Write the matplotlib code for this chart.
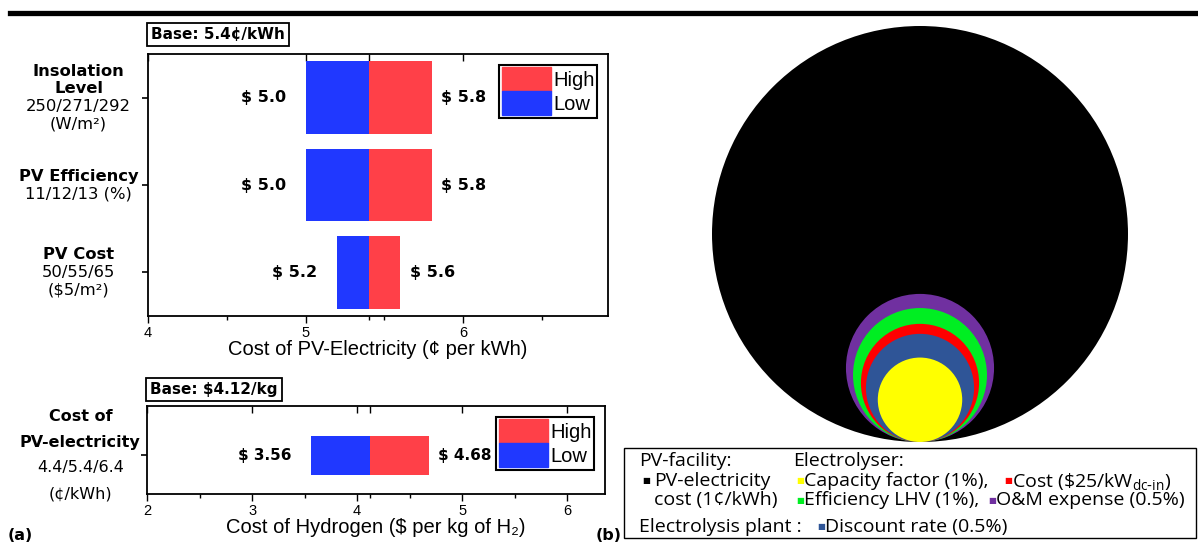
import numpy as np
import matplotlib
matplotlib.use("Agg")
import matplotlib.pyplot as plt
from matplotlib.patches import Patch, Circle
from matplotlib.lines import Line2D
from matplotlib.transforms import offset_copy

plt.rcParams['font.family'] = ['DejaVu Sans']
plt.rcParams['mathtext.default'] = 'regular'

#==================
#====== Data
#==================
# (a) top: sensitivity of PV-electricity cost (cents per kWh)
pv_base = 5.4
pv_params = ['Insolation Level', 'PV Efficiency', 'PV Cost']
pv_bold = [['Insolation', 'Level'], ['PV Efficiency'], ['PV Cost']]
pv_norm = [['250/271/292', '(W/m²)'], ['11/12/13 (%)'], ['50/55/65', '($5/m²)']]
pv_low = [5.0, 5.0, 5.2]
pv_high = [5.8, 5.8, 5.6]

# (a) bottom: sensitivity of hydrogen cost ($ per kg)
h2_base = 4.12
h2_bold = [['Cost of', 'PV-electricity']]
h2_norm = [['4.4/5.4/6.4', '(¢/kWh)']]
h2_low = [3.56]
h2_high = [4.68]

# (b) relative impact on hydrogen cost (circle size, PV-electricity = 1)
circ_names = ['PV-electricity', 'O&M expense', 'Efficiency LHV', 'Cost', 'Discount rate', 'Capacity factor']
circ_size = [1.0, 0.356, 0.322, 0.284, 0.260, 0.203]
circ_colors = ['#000000', '#7030A0', '#00EE22', '#FF0000', '#2F5597', '#FFFF00']

c_high = '#FF4048'
c_low = '#2038FF'

W, H = 1198, 546
fig = plt.figure(figsize=(W / 100, H / 100), dpi=100)

def fax(l, t, r, b):
    # axes from pixel box
    return fig.add_axes([l / W, 1 - b / H, (r - l) / W, (b - t) / H])

# thick rule at top
fig.add_artist(Line2D([10 / W, 1.0], [1 - 13 / H, 1 - 13 / H], color='k', lw=3.8))

def ylabels(ax, ypos, bold, norm, lsp, fs, dx):
    for y, bl, nl in zip(ypos, bold, norm):
        lines = [(s, 'bold') for s in bl] + [(s, 'normal') for s in nl]
        n = len(lines)
        for i, (s, w) in enumerate(lines):
            off = ((n - 1) / 2 - i) * lsp
            tr = offset_copy(ax.get_yaxis_transform(), fig=fig, x=dx, y=off, units='points')
            ax.text(0, y, s, transform=tr, ha='center', va='center', fontsize=fs, fontweight=w)

def tornado(ax, ypos, low, high, base, height, fmt, majors, vfs):
    ax.barh(ypos, np.array(high) - base, left=base, height=height, color=c_high, edgecolor='none')
    ax.barh(ypos, base - np.array(low), left=low, height=height, color=c_low, edgecolor='none')
    for y, lo, hi in zip(ypos, low, high):
        ax.annotate(fmt.format(lo), (lo, y), xytext=(-14, 0), textcoords='offset points',
                    ha='right', va='center', fontsize=vfs, fontweight='bold')
        ax.annotate(fmt.format(hi), (hi, y), xytext=(7, 0), textcoords='offset points',
                    ha='left', va='center', fontsize=vfs, fontweight='bold')
    leg = ax.legend(handles=[Patch(color=c_high, label='High'), Patch(color=c_low, label='Low')],
                    loc='upper right', prop={'family': 'Liberation Sans', 'size': 14.5},
                    handlelength=2.45, handleheight=1.45,
                    labelspacing=0.0, handletextpad=0.1, borderpad=0.12, borderaxespad=0.55,
                    fancybox=False, framealpha=1)
    leg.get_frame().set_edgecolor('k')
    leg.get_frame().set_linewidth(1.5)
    for sp in ax.spines.values():
        sp.set_linewidth(1.3)
    ax.set_yticks(ypos)
    ax.set_yticklabels([])
    ax.tick_params(axis='y', length=4, width=1.2)
    ax.set_xticks(majors)
    ax.set_xticks(list(np.arange(majors[0] + 0.5, ax.get_xlim()[1], 1.0)) + [base], minor=True)
    ax.set_xticklabels([str(m) for m in majors], family='Liberation Sans', fontsize=10.5)
    ax.tick_params(axis='x', which='both', width=1.0, direction='out')
    ax.tick_params(axis='x', which='major', length=5, pad=2)
    ax.tick_params(axis='x', which='minor', length=3)
    # inward ticks along the top spine
    top = ax.secondary_xaxis('top')
    top.set_xticks(majors + [base])
    top.set_xticklabels([])
    top.tick_params(direction='in', length=5, width=1.0)
    top.spines['top'].set_visible(False)

#====== top tornado
ax1 = fax(148, 54, 608, 316)
ax1.set_xlim(4, 6.92)
ax1.set_ylim(2.5, -0.5)
y1 = np.arange(len(pv_params))
tornado(ax1, y1, pv_low, pv_high, pv_base, 0.83, '$ {:.1f}', [4, 5, 6], 11.5)
ylabels(ax1, y1, pv_bold, pv_norm, 12.8, 11.8, -50)
ax1.set_xlabel('Cost of PV-Electricity (¢ per kWh)', fontsize=14.5, family='Liberation Sans', labelpad=0)
ax1.text(0.007, 1.045, 'Base: 5.4¢/kWh', transform=ax1.transAxes, ha='left', va='bottom',
         fontsize=11, fontweight='bold',
         bbox=dict(boxstyle='square,pad=0.28', fc='white', ec='k', lw=1.3))

#====== bottom tornado
ax2 = fax(147, 406, 605, 494)
ax2.set_xlim(2, 6.36)
ax2.set_ylim(-0.443, 0.557)
y2 = np.arange(len(h2_low))
tornado(ax2, y2, h2_low, h2_high, h2_base, 0.443, '$ {:.2f}', [2, 3, 4, 5, 6], 11)
ylabels(ax2, y2, h2_bold, h2_norm, 18.5, 11.5, -48)
ax2.set_xlabel('Cost of Hydrogen ($ per kg of H₂)', fontsize=14.5, family='Liberation Sans', labelpad=0)
ax2.text(0.007, 1.1, 'Base: $4.12/kg', transform=ax2.transAxes, ha='left', va='bottom',
         fontsize=11, fontweight='bold',
         bbox=dict(boxstyle='square,pad=0.28', fc='white', ec='k', lw=1.3))

fig.text(8 / W, 1 - 535 / H, '(a)', fontsize=11.5, fontweight='bold', va='center')
fig.text(596 / W, 1 - 535 / H, '(b)', fontsize=11.5, fontweight='bold', va='center')

#====== (b) nested circles, all touching at the bottom
ax3 = fax(700, 20, 1140, 450)
ax3.set_xlim(0, 440)
ax3.set_ylim(0, 430)
ax3.set_aspect('equal')
ax3.axis('off')
r_max = 208
for s, c in zip(circ_size, circ_colors):
    r = s * r_max
    ax3.add_patch(Circle((220, 8 + r), r, color=c, lw=0))

#====== (b) legend box
fig.add_artist(plt.Rectangle((624 / W, 1 - 538 / H), (1196 - 624) / W, 90 / H,
                             fill=False, ec='k', lw=1.0, transform=fig.transFigure))
lf = ['Open Sans', 'DejaVu Sans']
fs = 14

def lt(x, y, s, **kw):
    fig.text(x / W, 1 - y / H, s, fontsize=fs, family=lf, va='center', ha='left', **kw)

def bullet(x, y, c):
    fig.text(x / W, 1 - y / H, '■', fontsize=6, family=['DejaVu Sans'], color=c, va='center', ha='left')

lt(639, 461, 'PV-facility:')
lt(793, 461, 'Electrolyser:')
bullet(642, 481, circ_colors[0])
lt(654, 481, 'PV-electricity')
lt(654, 500, 'cost (1¢/kWh)')
bullet(796, 481, circ_colors[5])
lt(804, 481, 'Capacity factor (1%),')
bullet(1004, 481, circ_colors[3])
lt(1012, 481, r'Cost (\$25/kW$_{dc\text{-}in}$)')
bullet(796, 500, circ_colors[2])
lt(804, 500, 'Efficiency LHV (1%),')
bullet(988, 500, circ_colors[1])
lt(996, 500, 'O&M expense (0.5%)')
lt(639, 527, 'Electrolysis plant :')
bullet(817, 527, circ_colors[4])
lt(825, 527, 'Discount rate (0.5%)')

fig.savefig('out.png', dpi=100)
